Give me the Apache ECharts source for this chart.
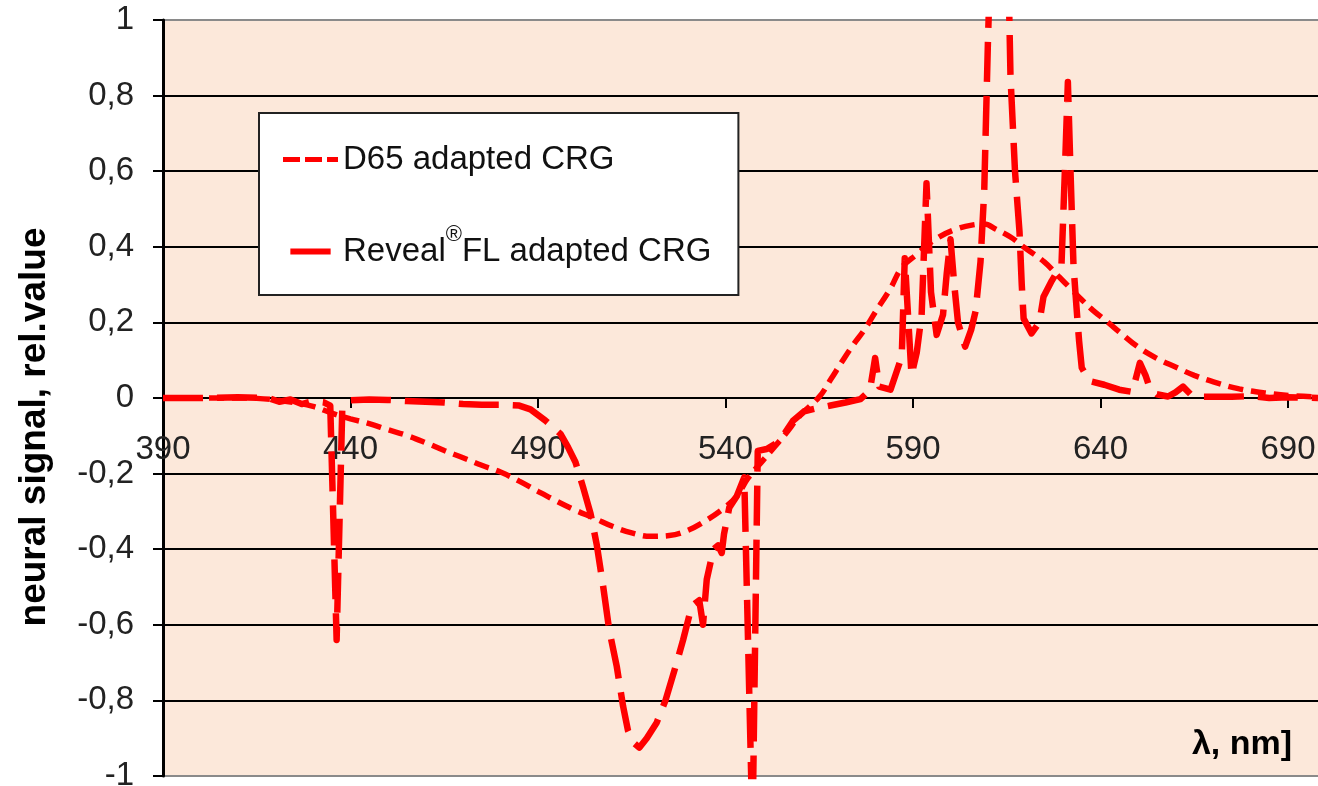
<!DOCTYPE html>
<html><head><meta charset="utf-8">
<script src="https://cdn.jsdelivr.net/npm/echarts@6/dist/echarts.min.js"></script>
<style>html,body{margin:0;padding:0;background:#fff;overflow:hidden}#chart{width:1318px;height:786px}</style>
</head><body><div id="chart"></div>
<script>
const xTicks = [390, 440, 490, 540, 590, 640, 690];
const yTicks = [-1, -0.8, -0.6, -0.4, -0.2, 0, 0.2, 0.4, 0.6, 0.8, 1];
const seriesNames = ['D65 adapted CRG', 'Reveal®FL adapted CRG'];
const yTitle = 'neural signal, rel.value';
const xTitle = 'λ, nm]';

const d65Wavelengths = [390,395,400,405,410,415,420,425,430,435,440,445,450,455,460,465,470,475,480,485,490,495,500,505,510,515,520,525,530,535,540,543,546,550,553,556,560,565,568,571,574,577,580,584,587,591,596,601,606,609,612,616,620,625,629,632,635,638,642,645,650,655,660,665,671,677,684,691,698];
const d65Values = [0,0,0,0,0,-0.001,-0.005,-0.012,-0.022,-0.04,-0.055,-0.068,-0.084,-0.099,-0.118,-0.139,-0.158,-0.178,-0.196,-0.22,-0.247,-0.273,-0.297,-0.318,-0.34,-0.357,-0.366,-0.364,-0.35,-0.323,-0.288,-0.26,-0.212,-0.165,-0.13,-0.095,-0.045,0.003,0.048,0.095,0.14,0.18,0.228,0.29,0.345,0.38,0.42,0.445,0.458,0.46,0.447,0.426,0.396,0.36,0.32,0.29,0.26,0.232,0.2,0.175,0.135,0.105,0.082,0.06,0.04,0.024,0.013,0.006,0.003];

const revealWavelengths = [390,400,410,418,421,424,427,430,433,434.6,436.3,437.8,440,445,450,455,460,465,470,475,480,485,488,492,496,498,500,502,504,505.7,507.4,509,511,512.7,514,515.5,517,519,521.6,524,527,528.7,531,533,534,535,536.8,538,539,539.6,541,543,545,547.2,548.6,551,553.5,556,558,561,564,568,572,576,578.5,579.9,581,584,587,587.8,589.6,591,592.3,593.6,594.8,596.3,598,599,600,601,602,603.9,605.5,606.7,608,609,610,612,614.5,616,617.2,618.4,619,619.5,621.6,623.7,624.8,627,629.6,630.5,631.3,632,632.8,633.6,634.3,635,637,641,645,648.5,650.5,652,653,655,658,660,662,664,667,675,680,685,690,698];
const revealValues = [0,0,0.002,0,-0.01,-0.004,-0.016,-0.008,-0.012,-0.02,-0.64,-0.03,-0.006,-0.004,-0.005,-0.008,-0.01,-0.012,-0.016,-0.018,-0.018,-0.02,-0.03,-0.06,-0.095,-0.13,-0.17,-0.235,-0.305,-0.39,-0.5,-0.614,-0.71,-0.816,-0.88,-0.912,-0.925,-0.9,-0.86,-0.8,-0.7,-0.64,-0.55,-0.535,-0.6,-0.48,-0.4,-0.39,-0.41,-0.36,-0.29,-0.26,-0.21,-1.15,-0.14,-0.135,-0.12,-0.09,-0.06,-0.035,-0.028,-0.02,-0.012,-0.003,0.02,0.106,0.03,0.022,0.11,0.37,0.06,0.12,0.22,0.568,0.28,0.167,0.22,0.33,0.42,0.3,0.2,0.136,0.18,0.23,0.36,0.55,0.95,1.6,1.6,0.85,0.6,0.44,0.3,0.21,0.171,0.2,0.268,0.31,0.353,0.6,0.836,0.6,0.35,0.24,0.15,0.08,0.045,0.035,0.022,0.016,0.093,0.06,0.03,0.01,0.004,0.015,0.03,0.01,0.003,0.003,0.005,0,0.002,0];

const FONT = '"Liberation Sans", Arial, sans-serif';
const d65Data = d65Wavelengths.map((w, i) => [w, d65Values[i]]);
const revealData = revealWavelengths.map((w, i) => [w, revealValues[i]]);

const GRID_TOP = 20, GRID_BOTTOM = 10, H = 786;
const zeroOffset = -(H - GRID_TOP - GRID_BOTTOM) / 2;

const chart = echarts.init(document.getElementById('chart'));
chart.setOption({
  animation: false,
  textStyle: { fontFamily: FONT },
  grid: { left: 163, right: 0, top: GRID_TOP, bottom: GRID_BOTTOM, containLabel: false, outerBoundsMode: 'none',
    show: true, backgroundColor: '#FCE8DA', borderWidth: 0 },
  xAxis: {
    type: 'value', min: xTicks[0], max: 698, interval: xTicks[1] - xTicks[0],
    position: 'bottom', offset: zeroOffset,
    axisLine: { onZero: false, lineStyle: { color: '#000', width: 2 } },
    axisTick: { show: true, length: 10, lineStyle: { color: '#000', width: 2 } },
    axisLabel: { fontSize: 33, color: '#222', margin: 35, showMaxLabel: false, fontFamily: FONT,
      formatter: v => (xTicks.indexOf(v) >= 0 ? String(v) : '') },
    splitLine: { show: false }
  },
  yAxis: {
    type: 'value', min: yTicks[0], max: yTicks[yTicks.length - 1], interval: 0.2,
    axisLine: { show: true, onZero: false, lineStyle: { color: '#000', width: 3 } },
    axisTick: { show: true, length: 10, lineStyle: { color: '#000', width: 2 } },
    axisLabel: { fontSize: 33, color: '#222', margin: 29, fontFamily: FONT,
      formatter: v => String(Math.round(v * 10) / 10).replace('.', ',') },
    splitLine: { show: true, lineStyle: { width: 2, color: ['#8a8a8a','#000','#000','#000','#000','#000','#000','#000','#000','#000','#8a8a8a'] } }
  },
  legend: {
    orient: 'vertical', left: 259, top: 113,
    padding: [19, 27, 16, 24], itemGap: 37,
    backgroundColor: '#fff', borderColor: '#222', borderWidth: 2,
    itemWidth: 55, itemHeight: 6, selectedMode: false,
    itemStyle: { borderWidth: 0 },
    data: [
      { name: seriesNames[0], icon: 'path://M0,0h17v5h-17z M22,0h17v5h-17z M44,0h11v5h-11z' },
      { name: seriesNames[1], icon: 'path://M0,0h47v7h-47z' }
    ],
    formatter: name => name === seriesNames[1] ? 'Reveal{r|®}FL adapted CRG' : name,
    textStyle: { fontSize: 33, color: '#111', lineHeight: 55, fontFamily: FONT,
      rich: { r: { fontSize: 22, lineHeight: 22, verticalAlign: 'top', color: '#111', fontFamily: FONT } } }
  },
  graphic: [
    { type: 'text', x: 35, y: 427, rotation: Math.PI / 2,
      style: { text: yTitle, fontSize: 37, fontWeight: 'bold', fontFamily: FONT, fill: '#000', align: 'center', verticalAlign: 'middle', textAlign: 'center', textVerticalAlign: 'middle' } },
    { type: 'text', x: 1292, y: 745,
      style: { text: xTitle, fontSize: 34, fontWeight: 'bold', fontFamily: FONT, fill: '#000', align: 'right', verticalAlign: 'middle', textAlign: 'right', textVerticalAlign: 'middle' } }
  ],
  series: [
    { name: seriesNames[0], type: 'line', data: d65Data, showSymbol: false, symbol: 'none', smooth: 0.4,
      itemStyle: { color: '#ff0000' },
      lineStyle: { color: '#ff0000', width: 5.5, type: [15, 8], cap: 'butt' } },
    { name: seriesNames[1], type: 'line', data: revealData, showSymbol: false, symbol: 'none', smooth: false,
      itemStyle: { color: '#ff0000' },
      lineStyle: { color: '#ff0000', width: 6.5, type: [40, 14], cap: 'butt', join: 'round' } }
  ]
});
</script></body></html>
